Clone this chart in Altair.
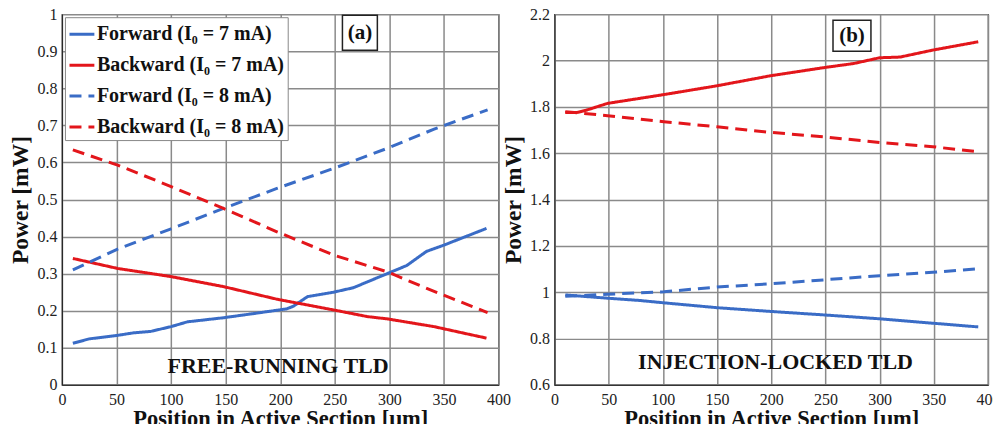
import altair as alt
import pandas as pd

# ---------------- data ----------------
series_names = ["Forward (I₀ = 7 mA)", "Backward (I₀ = 7 mA)",
                "Forward (I₀ = 8 mA)", "Backward (I₀ = 8 mA)"]
series_colors = ["#3a6cc6", "#e3161b", "#3a6cc6", "#e3161b"]
series_dash = [[1, 0], [1, 0], [12, 7], [12, 7]]

# Panel (a): free-running TLD
a_fwd7_x = [10, 25, 50, 65, 81, 100, 115, 148, 175, 206, 212, 225, 249, 267, 298, 316, 334, 350, 389]
a_fwd7_y = [0.112, 0.124, 0.133, 0.140, 0.144, 0.157, 0.170, 0.181, 0.192, 0.205, 0.212, 0.238, 0.250, 0.262, 0.300, 0.322, 0.360, 0.377, 0.422]
a_bwd7_x = [10, 51, 100, 148, 197, 249, 280, 298, 341, 389]
a_bwd7_y = [0.341, 0.314, 0.292, 0.265, 0.231, 0.202, 0.184, 0.178, 0.157, 0.126]
a_fwd8_x = [10, 51, 100, 148, 197, 249, 298, 341, 390]
a_fwd8_y = [0.310, 0.366, 0.421, 0.476, 0.530, 0.584, 0.638, 0.690, 0.742]
a_bwd8_x = [10, 51, 100, 148, 197, 249, 298, 341, 390]
a_bwd8_y = [0.634, 0.593, 0.535, 0.476, 0.413, 0.350, 0.305, 0.252, 0.195]

# Panel (b): injection-locked TLD
b_fwd7_x = [10, 49, 79, 101, 150, 199, 248, 276, 300, 349, 391]
b_fwd7_y = [0.988, 0.974, 0.964, 0.954, 0.933, 0.917, 0.902, 0.893, 0.885, 0.866, 0.850]
b_bwd7_x = [10, 21, 29, 49, 101, 150, 199, 248, 276, 300, 319, 349, 391]
b_bwd7_y = [1.776, 1.776, 1.785, 1.815, 1.853, 1.891, 1.934, 1.969, 1.987, 2.012, 2.015, 2.045, 2.081]
b_fwd8_x = [10, 49, 101, 150, 199, 248, 300, 349, 391]
b_fwd8_y = [0.982, 0.991, 1.002, 1.022, 1.036, 1.053, 1.071, 1.086, 1.101]
b_bwd8_x = [10, 49, 101, 150, 199, 248, 300, 349, 391]
b_bwd8_y = [1.779, 1.762, 1.736, 1.714, 1.690, 1.671, 1.646, 1.628, 1.606]

x_ticks = [0, 50, 100, 150, 200, 250, 300, 350, 400]
a_y_ticks = [0, 0.1, 0.2, 0.3, 0.4, 0.5, 0.6, 0.7, 0.8, 0.9, 1.0]
b_y_ticks = [0.6, 0.8, 1.0, 1.2, 1.4, 1.6, 1.8, 2.0, 2.2]

a_note = "FREE-RUNNING TLD"
b_note = "INJECTION-LOCKED TLD"

FONT = "Liberation Serif"


def long_df(pairs):
    rows = []
    for name, (xs, ys) in zip(series_names, pairs):
        for k, (x, y) in enumerate(zip(xs, ys)):
            rows.append({"pos": x, "power": y, "series": name, "order": k})
    return pd.DataFrame(rows)


def panel(df, ydom, yticks, legend_y, w, tag, tag_box, note, note_xy):
    xscale = alt.Scale(domain=[0, 400], nice=False, zero=False)
    yscale = alt.Scale(domain=ydom, nice=False, zero=False)
    xaxis = alt.Axis(values=x_ticks, title="Position in Active Section [μm]", format="d",
                     labelFlush=False, labelOverlap=False, labelFont=FONT, labelFontSize=16,
                     labelPadding=7, titlePadding=0, titleFontSize=22.5)
    yaxis = alt.Axis(values=yticks, title="Power [mW]", format="~g",
                     labelOverlap=False, labelFont=FONT, labelFontSize=16,
                     labelPadding=5, titlePadding=4)
    legend = alt.Legend(
        title=None, orient="none", legendX=3, legendY=legend_y,
        symbolType="stroke", symbolSize=620, symbolStrokeWidth=3,
        labelFont=FONT, labelFontSize=20, labelFontWeight="bold", labelColor="#111",
        fillColor="white", strokeColor="#888", padding=3, rowPadding=7,
        labelOffset=1, labelLimit=400,
    )
    lines = alt.Chart(df).mark_line(strokeWidth=3, clip=True).encode(
        x=alt.X("pos:Q", scale=xscale, axis=xaxis),
        y=alt.Y("power:Q", scale=yscale, axis=yaxis),
        color=alt.Color("series:N", scale=alt.Scale(domain=series_names, range=series_colors),
                        legend=legend),
        strokeDash=alt.StrokeDash("series:N", scale=alt.Scale(domain=series_names, range=series_dash),
                                  legend=legend),
        order="order:Q",
    )
    box_df = pd.DataFrame([{"x1": tag_box[0], "x2": tag_box[1], "y1": tag_box[2], "y2": tag_box[3],
                            "tx": (tag_box[0] + tag_box[1]) / 2, "ty": (tag_box[2] + tag_box[3]) / 2,
                            "tag": tag}])
    box = alt.Chart(box_df).mark_rect(fill="white", stroke="#222", strokeWidth=1.5).encode(
        x=alt.X("x1:Q", scale=xscale, axis=xaxis), x2="x2:Q",
        y=alt.Y("y1:Q", scale=yscale, axis=yaxis), y2="y2:Q")
    tag_txt = alt.Chart(box_df).mark_text(font=FONT, fontSize=21, fontWeight="bold",
                                          color="#111", baseline="middle").encode(
        x=alt.X("tx:Q", scale=xscale, axis=xaxis), y=alt.Y("ty:Q", scale=yscale, axis=yaxis),
        text="tag:N")
    note_df = pd.DataFrame([{"x": note_xy[0], "y": note_xy[1], "t": note}])
    note_txt = alt.Chart(note_df).mark_text(font=FONT, fontSize=22, fontWeight="bold",
                                            color="#111", baseline="middle").encode(
        x=alt.X("x:Q", scale=xscale, axis=xaxis), y=alt.Y("y:Q", scale=yscale, axis=yaxis),
        text="t:N")
    return alt.layer(lines, box, tag_txt, note_txt).properties(width=w, height=371)


df_a = long_df([(a_fwd7_x, a_fwd7_y), (a_bwd7_x, a_bwd7_y), (a_fwd8_x, a_fwd8_y), (a_bwd8_x, a_bwd8_y)])
df_b = long_df([(b_fwd7_x, b_fwd7_y), (b_bwd7_x, b_bwd7_y), (b_fwd8_x, b_fwd8_y), (b_bwd8_x, b_bwd8_y)])

left = panel(df_a, [0, 1], a_y_ticks, 3, 437, "(a)", [257, 289, 0.903, 0.997], a_note, [198, 0.05])
right = panel(df_b, [0.6, 2.2], b_y_ticks, 127, 434, "(b)", [257, 292, 2.04, 2.174], b_note, [204, 0.7])

chart = alt.hconcat(left, right, spacing=56, bounds="flush").properties(
    padding={"left": 0, "top": -3, "right": -8, "bottom": -8},
).configure_view(
    stroke="#222", strokeWidth=1.2
).configure_axis(
    labelFont=FONT, labelFontSize=16, labelColor="#222",
    titleFont=FONT, titleFontSize=23.5, titleFontWeight="bold", titleColor="#111",
    grid=True, gridColor="#8a8a8a", gridWidth=1.5, gridOpacity=1,
    domainColor="#222", ticks=False,
)

chart.save("out.html", embed_options={"renderer": "svg", "actions": False})
